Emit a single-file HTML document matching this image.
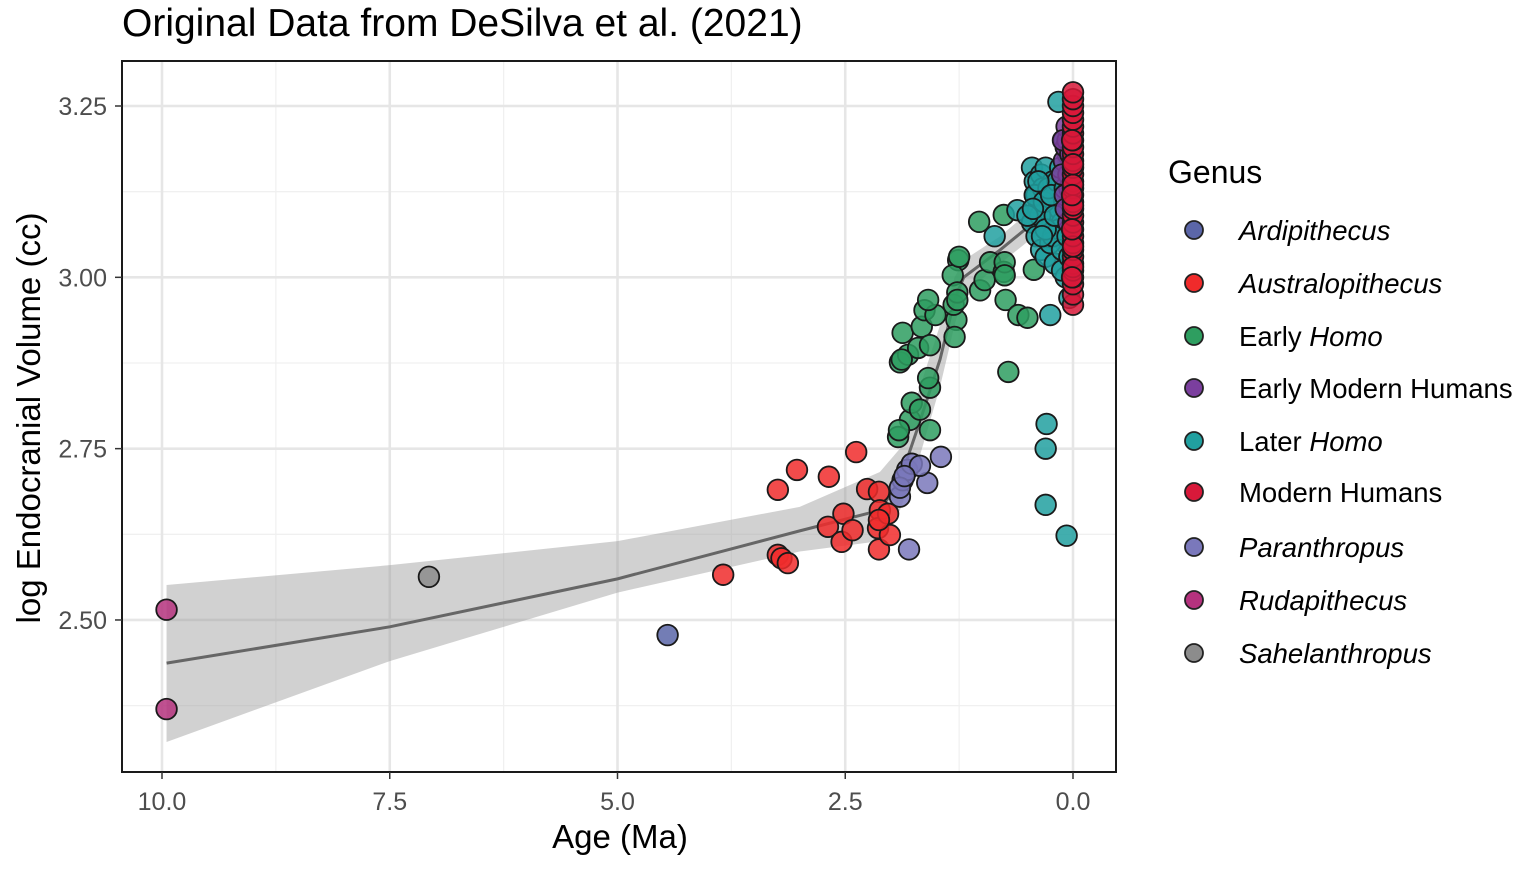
<!DOCTYPE html>
<html><head><meta charset="utf-8"><style>
body{margin:0;background:#fff;font-family:"Liberation Sans",sans-serif}
svg text{font-family:"Liberation Sans",sans-serif}
</style></head><body>
<svg id="chart" width="1535" height="866" xmlns="http://www.w3.org/2000/svg">
<text x="122" y="36" font-size="39" fill="#000">Original Data from DeSilva et al. (2021)</text>
<g id="grid"></g>
<g id="band"></g>
<g id="pts"></g>
<rect x="122" y="61" width="994" height="711" fill="none" stroke="#1a1a1a" stroke-width="2"/>
<g id="axes"></g>
<text x="620" y="848" font-size="33" text-anchor="middle">Age (Ma)</text>
<text transform="translate(40,418) rotate(-90)" font-size="33" text-anchor="middle">log Endocranial Volume (cc)</text>
<g id="legend"></g>
</svg>
<script>
const xTicks=[10,7.5,5,2.5,0];
const xTickLabels=["10.0","7.5","5.0","2.5","0.0"];
const yTicks=[2.5,2.75,3.0,3.25];
const yTickLabels=["2.50","2.75","3.00","3.25"];
const genera=["Ardipithecus","Australopithecus","Early Homo","Early Modern Humans","Later Homo","Modern Humans","Paranthropus","Rudapithecus","Sahelanthropus"];
const colors=["#5B66A8","#F02B2B","#2E9E60","#7B3F9E","#21A0A0","#D8193A","#7A78BB","#B5327E","#8C8C8C"];
const fitAge=[9.95,7.5,5,3,2.12,1.9,1.68,1.46,1.3,1.2,0.8,0.47,0];
const fitMid=[2.437,2.49,2.56,2.63,2.66,2.704,2.79,2.88,2.967,3.0,3.04,3.076,3.11];
const fitLo=[2.322,2.44,2.54,2.6,2.615,2.66,2.74,2.84,2.93,2.975,3.02,3.055,3.09];
const fitHi=[2.551,2.58,2.615,2.665,2.716,2.75,2.84,2.93,3.0,3.025,3.06,3.097,3.13];
const rudAge=[9.95,9.95], rudVal=[2.515,2.37];
const sahAge=[7.07], sahVal=[2.563];
const ardAge=[4.45], ardVal=[2.478];
const ausAge=[3.84,3.24,3.2,3.13,3.24,3.03,2.68,2.38,2.69,2.52,2.54,2.42,2.26,2.13,2.12,2.14,2.13,2.03,2.01,2.13];
const ausVal=[2.566,2.595,2.59,2.583,2.69,2.719,2.709,2.745,2.636,2.655,2.614,2.631,2.691,2.687,2.66,2.634,2.603,2.655,2.624,2.646];
const parAge=[1.8,1.45,1.6,1.9,1.87,1.82,1.77,1.68,1.9,1.85];
const parVal=[2.603,2.738,2.70,2.68,2.704,2.719,2.728,2.725,2.693,2.71];
const ehAge=[1.57,1.92,1.79,1.91,1.77,1.68,1.57,1.59,1.9,1.81,1.87,1.66,1.63,1.51,1.7,1.57,1.28,1.3,1.31,1.26,1.32,1.59,1.27,1.02,0.97,0.91,0.76,0.75,0.74,0.75,0.6,0.5,0.71,0.76,1.03,1.27,0.43,1.88,1.25];
const ehVal=[2.777,2.767,2.792,2.777,2.817,2.807,2.839,2.853,2.876,2.887,2.919,2.928,2.952,2.945,2.897,2.901,2.938,2.913,2.96,3.025,3.003,2.967,2.978,2.981,2.996,3.022,3.008,3.022,2.967,3.003,2.945,2.941,2.862,3.091,3.081,2.967,3.011,2.88,3.03];
const lhAge=[0.29,0.3,0.3,0.07,0.25,0.86,0.61,0.16,0.45,0.42,0.4,0.38,0.35,0.33,0.3,0.28,0.25,0.22,0.2,0.18,0.15,0.12,0.1,0.08,0.45,0.4,0.35,0.3,0.25,0.2,0.15,0.1,0.05,0.42,0.36,0.32,0.27,0.22,0.17,0.12,0.08,0.05,0.38,0.3,0.2,0.12,0.06,0.5,0.44,0.34,0.24,0.14,0.09,0.04,0.1,0.06,0.04];
const lhVal=[2.786,2.75,2.668,2.623,2.945,3.06,3.098,3.256,3.16,3.14,3.12,3.1,3.15,3.13,3.16,3.09,3.11,3.14,3.07,3.12,3.1,3.08,3.15,3.05,3.08,3.06,3.04,3.03,3.05,3.02,3.07,3.12,3.1,3.12,3.09,3.11,3.13,3.06,3.14,3.04,3.0,3.17,3.14,3.07,3.09,3.01,3.06,3.09,3.1,3.06,3.12,3.16,3.13,3.03,3.2,3.18,2.97];
const emhAge=[0.1,0.08,0.06,0.05,0.04,0.12,0.09,0.07,0.03,0.11,0.05,0.08];
const emhVal=[3.17,3.19,3.2,3.15,3.13,3.15,3.12,3.22,3.18,3.2,3.08,3.1];
const mhAge=[0,0,0,0,0,0,0,0,0,0,0,0,0,0,0,0,0,0,0,0,0,0,0,0,0,0,0,0,0,0,0,0,0,0,0,0,0.01,0.01,0.01,0.01];
const mhVal=[2.96,2.975,2.99,3.0,3.01,3.02,3.03,3.04,3.05,3.06,3.07,3.08,3.09,3.1,3.11,3.12,3.13,3.14,3.15,3.16,3.17,3.18,3.19,3.2,3.21,3.22,3.23,3.24,3.25,3.26,3.27,3.015,3.045,3.105,3.135,3.165,3.0,3.07,3.12,3.2];

const NS="http://www.w3.org/2000/svg";
const X=a=>1073-(a)*91.1;
const Y=v=>106+(3.25-v)*685.3;
function mk(tag,attrs,parent){const e=document.createElementNS(NS,tag);for(const k in attrs)e.setAttribute(k,attrs[k]);parent.appendChild(e);return e;}
const grid=document.getElementById('grid');
mk('rect',{x:122,y:61,width:994,height:711,fill:'#fff'},grid);
[1.25,3.75,6.25,8.75].forEach(a=>{const l=mk('line',{x1:X(a),x2:X(a),y1:61,y2:772,stroke:'#f0f0f0','stroke-width':1.3},grid);});
[2.375,2.625,2.875,3.125].forEach(v=>{const l=mk('line',{x1:122,x2:1116,y1:Y(v),y2:Y(v),stroke:'#f0f0f0','stroke-width':1.3},grid);});
xTicks.forEach(a=>{const l=mk('line',{x1:X(a),x2:X(a),y1:61,y2:772,stroke:'#e6e6e6','stroke-width':2.6},grid);});
yTicks.forEach(v=>{const l=mk('line',{x1:122,x2:1116,y1:Y(v),y2:Y(v),stroke:'#e6e6e6','stroke-width':2.6},grid);});
const axes=document.getElementById('axes');
xTicks.forEach((a,i)=>{mk('line',{x1:X(a),x2:X(a),y1:772,y2:779,stroke:'#333','stroke-width':1.5},axes);
 const t=mk('text',{x:X(a),y:810,'font-size':25,fill:'#4d4d4d','text-anchor':'middle'},axes);t.textContent=xTickLabels[i];
 });
yTicks.forEach((v,i)=>{mk('line',{x1:115,x2:122,y1:Y(v),y2:Y(v),stroke:'#333','stroke-width':1.5},axes);
 const t=mk('text',{x:107,y:Y(v)+9,'font-size':25,fill:'#4d4d4d','text-anchor':'end'},axes);t.textContent=yTickLabels[i];
 });
const band=document.getElementById('band');
let d='M'+fitAge.map((a,i)=>X(a)+','+Y(fitHi[i])).join(' L')+' L'+fitAge.slice().reverse().map((a,j)=>{const i=fitAge.length-1-j;return X(a)+','+Y(fitLo[i]);}).join(' L')+'Z';
const bp=mk('path',{d:d,fill:'#999','fill-opacity':0.45},band);

const fl=mk('polyline',{points:fitAge.map((a,i)=>X(a)+','+Y(fitMid[i])).join(' '),fill:'none',stroke:'#666','stroke-width':3},band);

const pts=document.getElementById('pts');
const series=[[ardAge,ardVal,0],[ausAge,ausVal,1],[ehAge,ehVal,2],[lhAge,lhVal,4],[emhAge,emhVal,3],[parAge,parVal,6],[rudAge,rudVal,7],[sahAge,sahVal,8],[mhAge,mhVal,5]];
series.forEach(([ag,vl,ci])=>{ag.forEach((a,i)=>{const c=mk('circle',{cx:X(a),cy:Y(vl[i]),r:10.3,fill:colors[ci],'fill-opacity':0.85,stroke:'#1a1a1a','stroke-width':1.8},pts);
 });});
const lg=document.getElementById('legend');
const gt=mk('text',{x:1168,y:183,'font-size':32},lg);gt.textContent='Genus';
const labels=[[["Ardipithecus",1]],[["Australopithecus",1]],[["Early ",0],["Homo",1]],[["Early Modern Humans",0]],[["Later ",0],["Homo",1]],[["Modern Humans",0]],[["Paranthropus",1]],[["Rudapithecus",1]],[["Sahelanthropus",1]]];
const ly=[230,283,336,388,441,492,547,600,653];
genera.forEach((g,i)=>{const c=mk('circle',{cx:1194,cy:ly[i],r:9,fill:colors[i],stroke:'#222','stroke-width':1.8},lg);
 
 const t=mk('text',{x:1239,y:ly[i]+10,'font-size':27.5},lg);
 labels[i].forEach(([s,it])=>{const sp=mk('tspan',{'font-style':it?'italic':'normal'},t);sp.textContent=s;});
 });
</script>
</body></html>
